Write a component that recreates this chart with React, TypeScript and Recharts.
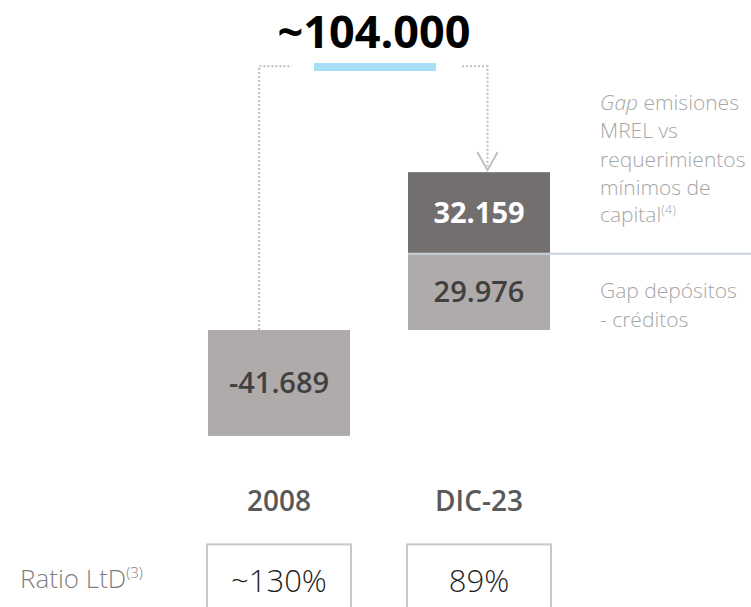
import React from 'react';
import { BarChart, Bar, XAxis, YAxis, LabelList } from 'recharts';

const periods = ['2008', 'DIC-23'];
const depositGap = [-41689, 29976];
const mrelGap = [0, 32159];
const ltdRatios = ['~130%', '89%'];
const totalLabel = '~104.000';

const data = periods.map((period, i) => ({
  period,
  deposit: depositGap[i],
  mrel: mrelGap[i],
}));

// swing from the 2008 gap to the Dec-23 gap (the "~104.000" bracket)
const totalSwing = -depositGap[0] + depositGap[1] + mrelGap[1];

const FONT = '"Open Sans", "Noto Sans", sans-serif';
const DARK = '#736F6E';
const LIGHT = '#AFABAA';
const DOTS = '#BFBFBF';

const fmt = (v: number) => {
  const s = Math.abs(v).toString().replace(/\B(?=(\d{3})+(?!\d))/g, '.');
  return (v < 0 ? '-' : '') + s;
};

const DepositShape = (props: any) => {
  const { x, y, width, height, payload } = props;
  const top = Math.min(y, y + height);
  const h = Math.abs(height);
  const ppu = h / Math.abs(payload.deposit);
  const negative = payload.deposit < 0;
  const zeroY = negative ? top : top + h;
  const bracketY = zeroY - totalSwing * ppu;
  const lx = x + width * 0.36;
  return (
    <g>
      <rect x={x} y={top} width={width} height={h} fill={LIGHT} />
      {negative && (
        <polyline
          points={`${lx},${top} ${lx},${bracketY} ${x + width * 0.59},${bracketY}`}
          fill="none"
          stroke={DOTS}
          strokeWidth={2}
          strokeDasharray="2 2"
        />
      )}
    </g>
  );
};

const MrelShape = (props: any) => {
  const { x, y, width, height, payload } = props;
  if (!payload.mrel) return null;
  const top = Math.min(y, y + height);
  const h = Math.abs(height);
  const ppu = h / payload.mrel;
  const zeroY = top + h + payload.deposit * ppu;
  const bracketY = zeroY - totalSwing * ppu;
  const rx = x + width * 0.56;
  const tipY = top - 2;
  return (
    <g>
      <rect x={x} y={top} width={width} height={h} fill={DARK} />
      <line x1={x} x2={751} y1={top + h} y2={top + h} stroke="#C9D0DC" strokeWidth={2} />
      <polyline
        points={`${x + width * 0.38},${bracketY} ${rx},${bracketY} ${rx},${tipY - 4}`}
        fill="none"
        stroke={DOTS}
        strokeWidth={2}
        strokeDasharray="2 2"
      />
      <polyline
        points={`${rx - 10},${tipY - 18} ${rx},${tipY} ${rx + 10},${tipY - 18}`}
        fill="none"
        stroke={DOTS}
        strokeWidth={2}
      />
    </g>
  );
};

const valueLabel = (color: string, weight: number) => (props: any) => {
  const { x, y, width, height, value } = props;
  if (!value) return null;
  const top = Math.min(y, y + height);
  const h = Math.abs(height);
  const fs = 29;
  return (
    <text
      x={x + width / 2}
      y={top + h / 2 + fs * 0.36}
      textAnchor="middle"
      fontSize={fs}
      fontWeight={weight}
      fill={color}
      fontFamily={FONT}
    >
      {fmt(value)}
    </text>
  );
};

const CategoryTick = (props: any) => {
  const { x, y, payload, index } = props;
  return (
    <g>
      <text x={x} y={y + 21} textAnchor="middle" fontSize={28} fontWeight={600} fill="#595959" fontFamily={FONT}>
        {payload.value}
      </text>
      <rect x={x - 72} y={y + 54} width={144} height={80} fill="#FFFFFF" stroke="#C8C8C8" strokeWidth={2} />
      <text x={x} y={y + 102} textAnchor="middle" fontSize={31} fontWeight={300} fill="#1F1F1F" fontFamily={FONT}>
        {ltdRatios[index]}
      </text>
    </g>
  );
};

const noteStyle = { fontFamily: FONT, fontSize: 21, fontWeight: 300, fill: '#A6A6A6' };

export default function App() {
  return (
    <div style={{ position: 'absolute', left: 0, top: 0, width: 751, height: 607, background: '#FFFFFF' }}>
      <BarChart
        width={751}
        height={607}
        data={data}
        stackOffset="sign"
        margin={{ top: 76, right: 172, bottom: 94.6, left: 179 }}
      >
        <XAxis dataKey="period" axisLine={false} tickLine={false} tick={<CategoryTick />} interval={0} />
        <YAxis hide domain={[-60000, 100000]} />
        <Bar dataKey="deposit" stackId="gap" barSize={142} shape={<DepositShape />} isAnimationActive={false}>
          <LabelList dataKey="deposit" content={valueLabel('#404040', 600)} />
        </Bar>
        <Bar dataKey="mrel" stackId="gap" barSize={142} shape={<MrelShape />} isAnimationActive={false}>
          <LabelList dataKey="mrel" content={valueLabel('#FFFFFF', 700)} />
        </Bar>
      </BarChart>
      <svg
        width={751}
        height={607}
        style={{ position: 'absolute', left: 0, top: 0, pointerEvents: 'none' }}
      >
        <text x={374} y={48} textAnchor="middle" fontFamily={FONT} fontSize={45} fontWeight={700} fill="#000000">
          {totalLabel}
        </text>
        <rect x={314} y={63} width={122} height={8} fill="#A7E0F6" />
        <text x={600} y={110} style={noteStyle}>
          <tspan fontStyle="italic">Gap</tspan> emisiones
        </text>
        <text x={600} y={138} style={noteStyle}>MREL vs</text>
        <text x={600} y={167} style={noteStyle}>requerimientos</text>
        <text x={600} y={195} style={noteStyle}>mínimos de</text>
        <text x={600} y={222} style={noteStyle}>
          capital<tspan fontSize={13} dy={-8}>(4)</tspan>
        </text>
        <text x={600} y={298} style={noteStyle}>Gap depósitos</text>
        <text x={600} y={327} style={noteStyle}>- créditos</text>
        <text x={20} y={588} fontFamily={FONT} fontSize={26} fontWeight={300} fill="#7F7F7F">
          Ratio LtD<tspan fontSize={15} dy={-10}>(3)</tspan>
        </text>
      </svg>
    </div>
  );
}
